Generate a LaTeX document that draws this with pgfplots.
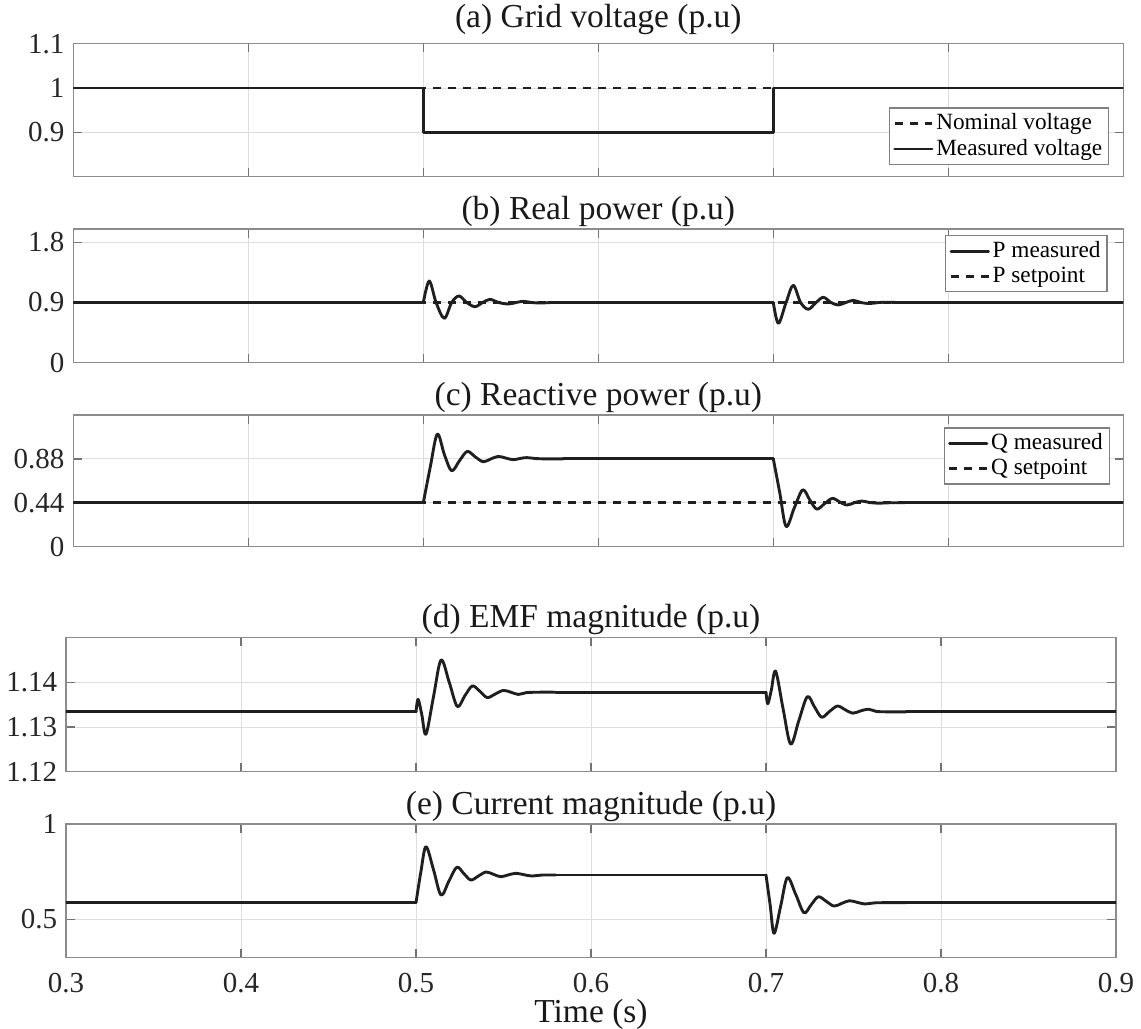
\documentclass[border=0pt]{standalone}
\usepackage{fontspec}
\setmainfont{Liberation Serif}
\usepackage{pgfplots}
\pgfplotsset{compat=1.18}
\pgfplotsset{
 panel/.style={
  scale only axis, width=420pt,
  xmin=0.3, xmax=0.9,
  xtick={0.3,0.4,0.5,0.6,0.7,0.8,0.9},
  xticklabels={},
  grid=major,
  major grid style={line width=0.4pt, black!13},
  axis line style={line width=0.6pt, black!45},
  tick style={line width=0.5pt, black!55},
  tick align=inside,
  major tick length=3.5pt,
  tick label style={font=\fontsize{11.6}{13}\selectfont, text=black!85},
  /pgf/number format/assume math mode=true,
  title style={font=\fontsize{13.4}{16}\selectfont, at={(0.5,1)}, anchor=south, inner sep=0pt, yshift=-5.2pt, text=black!90},
  legend style={font=\fontsize{9.3}{11}\selectfont, draw=black!50, line width=0.5pt, inner xsep=1.5pt, inner ysep=1.2pt, nodes={inner sep=1.1pt}, cells={anchor=west}, row sep=0pt},
  legend image code/.code={\draw[##1] (0pt,0pt) -- (15pt,0pt);},
 },
 sig/.style={line width=1.15pt, black!88, line cap=round, line join=round},
 sigs/.style={sig, smooth, tension=0.55, forget plot},
 nom/.style={line width=1.15pt, black!88, dash pattern=on 3.2pt off 2.8pt},
}
\begin{document}
\begin{tikzpicture}
\useasboundingbox (0pt,0pt) rectangle (456.4pt,-411.2pt);
% (a)
\begin{axis}[panel, at={(29.32pt,-17.48pt)}, anchor=north west, height=53.2pt,
  ymin=0.8, ymax=1.1, ytick={0.9,1,1.1}, yticklabels={0.9,1,1.1},
  title={(a) Grid voltage (p.u)}, title style={yshift=2.6pt},
  legend style={at={(0.9867,0.0857)}, anchor=south east}]
\addplot[nom] coordinates {(0.3,1) (0.9,1)};
\addlegendentry{Nominal voltage}
\addplot[sig] coordinates {(0.3,1) (0.5,1) (0.5,0.9) (0.7,0.9) (0.7,1) (0.9,1)};
\addlegendentry{Measured voltage}
\end{axis}
% (b)
\begin{axis}[panel, at={(29.32pt,-91.6pt)}, anchor=north west, height=53.48pt,
  ymin=0, ymax=2, ytick={0,0.9,1.8}, yticklabels={0,0.9,1.8},
  title={(b) Real power (p.u)},
  legend style={at={(0.9851,0.955)}, anchor=north east}]
\addplot[sig] coordinates {(0.3,0.9) (0.5,0.9)};
\addlegendentry{P measured}
\addplot[sigs] coordinates {
(0.5000,0.900) (0.5034,1.222) (0.5073,0.900) (0.5120,0.664) (0.5162,0.900)
(0.5204,0.998) (0.5248,0.900) (0.5295,0.838) (0.5339,0.900) (0.5381,0.948)
(0.5430,0.900) (0.5486,0.878) (0.5530,0.900) (0.5571,0.918) (0.5620,0.900)
(0.5670,0.893) (0.5730,0.900) (0.5800,0.900)};
\addplot[sig, forget plot] coordinates {(0.58,0.9) (0.7,0.9)};
\addplot[sigs] coordinates {
(0.7000,0.900) (0.7029,0.589) (0.7073,0.900) (0.7114,1.158) (0.7156,0.900)
(0.7200,0.799) (0.7244,0.900) (0.7286,0.978) (0.7330,0.900) (0.7371,0.863)
(0.7414,0.900) (0.7457,0.933) (0.7500,0.900) (0.7550,0.885) (0.7600,0.900)
(0.7650,0.905) (0.7720,0.900) (0.7800,0.900)};
\addplot[sig, forget plot] coordinates {(0.78,0.9) (0.9,0.9)};
\addplot[nom] coordinates {(0.3,0.9) (0.9,0.9)};
\addlegendentry{P setpoint}
\end{axis}
% (c)
\begin{axis}[panel, at={(29.32pt,-166pt)}, anchor=north west, height=52.68pt,
  ymin=0, ymax=1.32, ytick={0,0.44,0.88}, yticklabels={0,0.44,0.88},
  title={(c) Reactive power (p.u)},
  legend style={at={(0.9873,0.9066)}, anchor=north east}]
\addplot[sig] coordinates {(0.3,0.44) (0.5,0.44)};
\addlegendentry{Q measured}
\addplot[sigs] coordinates {
(0.5000,0.440) (0.5040,0.800) (0.5080,1.128) (0.5121,0.920) (0.5162,0.761)
(0.5206,0.860) (0.5251,0.955) (0.5297,0.900) (0.5343,0.851) (0.5386,0.880)
(0.5429,0.905) (0.5472,0.888) (0.5514,0.872) (0.5552,0.884) (0.5590,0.893)
(0.5640,0.884) (0.5700,0.880) (0.5800,0.880)};
\addplot[sig, forget plot] coordinates {(0.58,0.88) (0.7,0.88)};
\addplot[sigs] coordinates {
(0.7000,0.880) (0.7037,0.540) (0.7073,0.203) (0.7120,0.390) (0.7168,0.570)
(0.7208,0.470) (0.7248,0.377) (0.7292,0.430) (0.7337,0.484) (0.7378,0.450)
(0.7419,0.417) (0.7462,0.440) (0.7505,0.458) (0.7550,0.443) (0.7600,0.436)
(0.7660,0.440) (0.7750,0.440)};
\addplot[sig, forget plot] coordinates {(0.775,0.44) (0.9,0.44)};
\addplot[nom] coordinates {(0.3,0.44) (0.9,0.44)};
\addlegendentry{Q setpoint}
\end{axis}
% (d)
\begin{axis}[panel, at={(26.4pt,-255.08pt)}, anchor=north west, height=53.6pt,
  ymin=1.12, ymax=1.15, ytick={1.12,1.13,1.14}, yticklabels={1.12,1.13,1.14},
  title={(d) EMF magnitude (p.u)}]
\addplot[sig] coordinates {(0.3,1.1334) (0.5,1.1334)};
\addplot[sigs] coordinates {
(0.5000,1.1334) (0.5012,1.1362) (0.5033,1.1328) (0.5057,1.1284) (0.5100,1.1368)
(0.5143,1.1450) (0.5190,1.1400) (0.5236,1.1346) (0.5279,1.1370) (0.5322,1.1392)
(0.5365,1.1380) (0.5407,1.1366) (0.5453,1.1374) (0.5499,1.1382) (0.5542,1.1378)
(0.5585,1.1373) (0.5630,1.1377) (0.5700,1.1378) (0.5800,1.1378)};
\addplot[sig, forget plot] coordinates {(0.58,1.1378) (0.7,1.1378)};
\addplot[sigs] coordinates {
(0.7000,1.1378) (0.7010,1.1352) (0.7030,1.1382) (0.7055,1.1425) (0.7098,1.1340)
(0.7141,1.1262) (0.7188,1.1315) (0.7236,1.1368) (0.7277,1.1345) (0.7318,1.1322)
(0.7363,1.1335) (0.7408,1.1347) (0.7451,1.1339) (0.7495,1.1331) (0.7540,1.1336)
(0.7585,1.1340) (0.7630,1.1335) (0.7700,1.1334) (0.7800,1.1334)};
\addplot[sig, forget plot] coordinates {(0.78,1.1334) (0.9,1.1334)};
\end{axis}
% (e)
\begin{axis}[panel, at={(26.4pt,-329.6pt)}, anchor=north west, height=53.32pt,
  ymin=0.3, ymax=1, ytick={0.5,1}, yticklabels={0.5,1},
  xticklabels={0.3,0.4,0.5,0.6,0.7,0.8,0.9},
  xticklabel style={yshift=-3pt},
  xlabel={Time (s)},
  xlabel style={font=\fontsize{13.4}{16}\selectfont, inner sep=0pt, yshift=1pt, text=black!90},
  title={(e) Current magnitude (p.u)}]
\addplot[sig] coordinates {(0.3,0.587) (0.5,0.587)};
\addplot[sigs] coordinates {
(0.5000,0.587) (0.5028,0.750) (0.5057,0.881) (0.5100,0.760) (0.5143,0.627)
(0.5188,0.700) (0.5233,0.773) (0.5273,0.740) (0.5313,0.706) (0.5357,0.727)
(0.5400,0.748) (0.5442,0.736) (0.5484,0.723) (0.5528,0.733) (0.5571,0.741)
(0.5616,0.734) (0.5661,0.727) (0.5720,0.732) (0.5800,0.732)};
\addplot[sig, forget plot] coordinates {(0.58,0.732) (0.7,0.732)};
\addplot[sigs] coordinates {
(0.7000,0.732) (0.7023,0.580) (0.7046,0.426) (0.7084,0.570) (0.7122,0.718)
(0.7170,0.630) (0.7217,0.534) (0.7258,0.576) (0.7299,0.618) (0.7344,0.594)
(0.7389,0.569) (0.7432,0.583) (0.7476,0.597) (0.7520,0.589) (0.7565,0.580)
(0.7620,0.586) (0.7700,0.587) (0.7800,0.587)};
\addplot[sig, forget plot] coordinates {(0.78,0.587) (0.9,0.587)};
\end{axis}
\end{tikzpicture}
\end{document}
